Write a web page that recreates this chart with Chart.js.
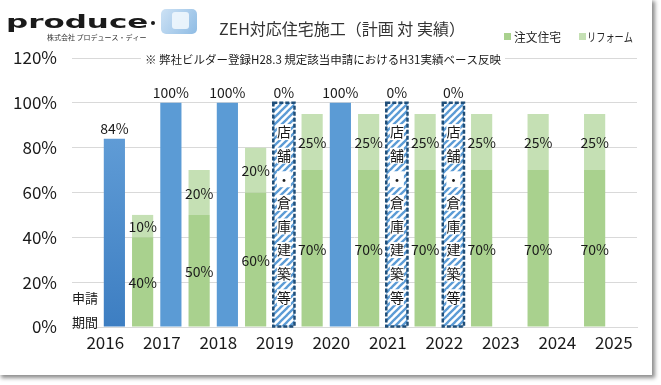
<!DOCTYPE html>
<html><head><meta charset="utf-8">
<script src="https://cdn.jsdelivr.net/npm/chart.js@4"></script>
<style>
html,body{margin:0;padding:0;background:#fff;}
#wrap{position:relative;width:661px;height:385px;overflow:hidden;background:#fff;}
#frame{position:absolute;left:-2px;top:-2px;width:654px;height:377px;background:#fff;box-shadow:3px 3px 4px rgba(0,0,0,0.45);}
#c{position:absolute;left:0;top:0;}
</style></head>
<body>
<div id="wrap"><div id="frame"></div><canvas id="c" width="661" height="385"></canvas></div>
<script>
// ---- data ----
const years = ['2016','2017','2018','2019','2020','2021','2022','2023','2024','2025'];
const planCustom = [null,40,50,60,70,70,70,70,70,70];     // 注文住宅
const planReform = [null,10,20,20,25,25,25,25,25,25];     // リフォーム
const actual     = [84,100,100,0,100,0,0,null,null,null];   // 実績
const otherWork  = [null,null,null,100,null,100,100,null,null,null]; // 店舗・倉庫建築等
const yTicks = [0,20,40,60,80,100,120];
const titleText = 'ZEH対応住宅施工（計画 対 実績）';
const noteText = '※ 弊社ビルダー登録H28.3 規定該当申請におけるH31実績ベース反映';
const otherText = '店舗・倉庫建築等';
const legendItems = ['注文住宅','リフォーム'];

const FONT = '"Noto Sans CJK JP","Noto Sans",sans-serif';
const canvas = document.getElementById('c');
const ctx0 = canvas.getContext('2d');

function makeHatch(){
  const c=document.createElement('canvas'); c.width=c.height=7;
  const g=c.getContext('2d');
  g.fillStyle='#fff'; g.fillRect(0,0,7,7);
  g.strokeStyle='#5b9bd5'; g.lineWidth=2.3;
  for (const o of [-7,0,7]) { g.beginPath(); g.moveTo(o-1,8); g.lineTo(o+8,-1); g.stroke(); }
  return ctx0.createPattern(c,'repeat');
}
const hatch = makeHatch();

function actualColor(ctx){
  if (ctx.dataIndex === 0 && ctx.chart.chartArea) {
    const el = ctx.chart.getDatasetMeta(ctx.datasetIndex).data[0];
    const a = ctx.chart.chartArea;
    const top = el && isFinite(el.y) ? el.y : a.top;
    const g = ctx.chart.ctx.createLinearGradient(0, top, 0, a.bottom);
    g.addColorStop(0,'#6ea8de'); g.addColorStop(1,'#3d7ec2');
    return g;
  }
  return '#5b9bd5';
}

const decor = {
  id:'decor',
  afterDatasetsDraw(chart){
    const ctx = chart.ctx; const a = chart.chartArea;
    ctx.save();
    ctx.fillStyle = '#1a1a1a';
    ctx.textAlign = 'center'; ctx.textBaseline = 'middle';
    ctx.font = '14px ' + FONT;
    // plan labels (centered in segments)
    [0,1].forEach(di=>{
      const meta = chart.getDatasetMeta(di);
      meta.data.forEach((el,i)=>{
        const v = chart.data.datasets[di].data[i];
        if (v == null) return;
        ctx.fillText(v + '%', el.x, (el.y + el.base)/2 + 1);
      });
    });
    // hatched bars: dashed border + vertical text
    const hm = chart.getDatasetMeta(3);
    hm.data.forEach((el,i)=>{
      if (otherWork[i] == null) return;
      const w = el.width;
      ctx.save();
      ctx.strokeStyle = '#1f4e79'; ctx.lineWidth = 2.5; ctx.setLineDash([4,2]);
      ctx.strokeRect(el.x - w/2, el.y, w, el.base - el.y);
      ctx.restore();
      const chars = Array.from(otherText);
      const step = 23.6;
      const mid = (el.y + el.base)/2;
      chars.forEach((ch,k)=>{
        const cy = mid + (k - (chars.length-1)/2)*step;
        ctx.fillStyle = '#fff';
        ctx.fillRect(el.x - 7, cy - 8, 14, 16);
        ctx.fillStyle = '#1a1a1a';
        ctx.fillText(ch, el.x, cy);
      });
    });
    // actual labels above stack top
    const am = chart.getDatasetMeta(2);
    am.data.forEach((el,i)=>{
      const v = actual[i];
      if (v == null) return;
      let top = el.y;
      if (otherWork[i] != null) top = Math.min(top, hm.data[i].y);
      ctx.fillStyle = '#1a1a1a';
      ctx.fillText(v + '%', el.x, top - 10);
    });
    // 申請 期間 note
    ctx.font = '13px ' + FONT;
    ctx.fillText('申請', a.left + 13, 298);
    ctx.fillText('期間', a.left + 13, 322);
    ctx.restore();
  },
  afterDraw(chart){
    const ctx = chart.ctx;
    ctx.save();
    // note (covers gridline)
    ctx.font = '11.5px ' + FONT;
    ctx.textBaseline = 'middle'; ctx.textAlign = 'left';
    const nw = ctx.measureText(noteText).width;
    ctx.fillStyle = '#fff';
    ctx.fillRect(141, 51, nw + 8, 16);
    ctx.fillStyle = '#1a1a1a';
    ctx.fillText(noteText, 145, 60);
    // title
    ctx.font = '16px ' + FONT;
    ctx.textAlign = 'center';
    ctx.fillStyle = '#333';
    ctx.fillText(titleText, 342, 28.5);
    // legend
    ctx.font = '12px ' + FONT;
    ctx.textAlign = 'left';
    ctx.fillStyle = '#a9d18e'; ctx.fillRect(504, 33, 7, 7);
    ctx.fillStyle = '#262626'; ctx.fillText(legendItems[0], 514, 37.5, 47);
    ctx.fillStyle = '#c5e0b4'; ctx.fillRect(579, 33, 7, 7);
    ctx.fillStyle = '#262626'; ctx.fillText(legendItems[1], 587, 37.5, 46);
    // logo
    ctx.save();
    ctx.translate(6, 28);
    ctx.scale(1.72, 1);
    ctx.font = 'bold 18px "DejaVu Sans"';
    ctx.textBaseline = 'alphabetic';
    ctx.fillStyle = '#1a1a1a';
    ctx.fillText('produce', 0, 0);
    ctx.restore();
    ctx.beginPath(); ctx.arc(153, 23, 2, 0, Math.PI*2); ctx.fillStyle='#1a1a1a'; ctx.fill();
    const g = ctx.createLinearGradient(160, 8, 197, 34);
    g.addColorStop(0,'#cfe3f5'); g.addColorStop(1,'#8fbce4');
    ctx.fillStyle = g;
    ctx.beginPath(); ctx.roundRect(161, 9, 36, 25, 5); ctx.fill();
    ctx.fillStyle = 'rgba(240,247,253,0.9)';
    ctx.beginPath(); ctx.roundRect(172, 12, 17, 17, 3); ctx.fill();
    ctx.font = '7px ' + FONT;
    ctx.fillStyle = '#333';
    ctx.fillText('株式会社 プロデュース・ディー', 47, 37);
    ctx.restore();
  }
};

new Chart(canvas, {
  type:'bar',
  data:{
    labels: years,
    datasets:[
      {label:legendItems[0], data:planCustom, stack:'plan', backgroundColor:'#a9d18e'},
      {label:legendItems[1], data:planReform, stack:'plan', backgroundColor:'#c5e0b4'},
      {label:'実績', data:actual, stack:'actual', backgroundColor:actualColor},
      {label:otherText, data:otherWork, stack:'actual', backgroundColor:hatch}
    ]
  },
  options:{
    responsive:false, animation:false, devicePixelRatio:1, events:[],
    layout:{padding:{top:58, right:24, left:0, bottom:0}},
    datasets:{bar:{categoryPercentage:1.0, barPercentage:0.75, borderWidth:0}},
    plugins:{legend:{display:false}, title:{display:false}, tooltip:{enabled:false}},
    scales:{
      x:{stacked:true,
         grid:{display:false, drawTicks:false},
         border:{display:true, color:'#d9d9d9'},
         ticks:{font:{size:17, family:FONT}, color:'#1a1a1a', padding:5, labelOffset:5, maxRotation:0},
         afterFit(s){ s.height = 58; }},
      y:{stacked:true, min:0, max:120,
         afterBuildTicks(s){ s.ticks = yTicks.map(v=>({value:v})); },
         grid:{color:'#d9d9d9', drawTicks:false},
         border:{display:false},
         ticks:{font:{size:17, family:FONT}, color:'#1a1a1a', padding:15, callback:v=>v+'%'},
         afterFit(s){ s.width = 72; }}
    }
  },
  plugins:[decor]
});
</script>
</body></html>
